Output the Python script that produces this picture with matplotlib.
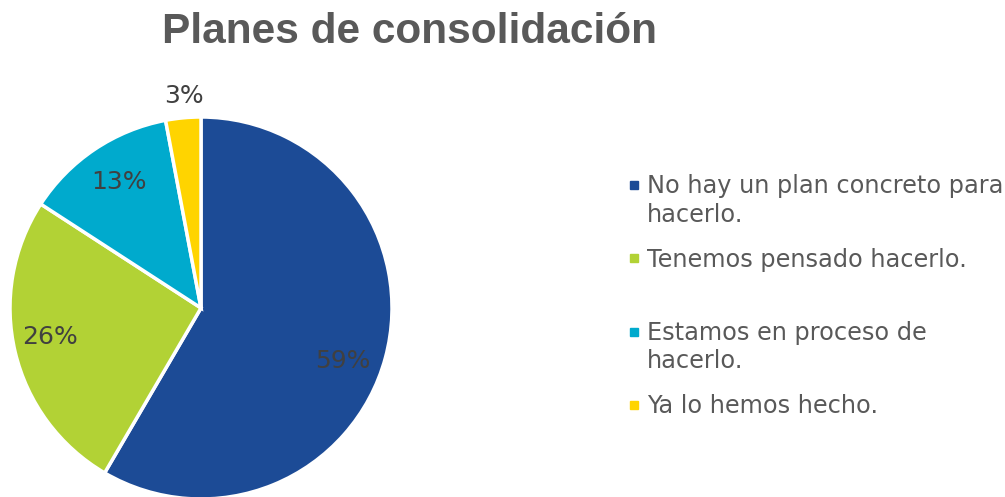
import matplotlib.pyplot as plt
from matplotlib.patches import Rectangle

categorias = ["No hay un plan concreto para\nhacerlo.",
              "Tenemos pensado hacerlo.",
              "Estamos en proceso de\nhacerlo.",
              "Ya lo hemos hecho."]
porcentajes = [59, 26, 13, 3]
colores = ["#1C4B96", "#B2D235", "#00AACD", "#FFD400"]

# posiciones de las etiquetas (en radios, relativas al centro)
pos_etiquetas = [(0.74, -0.28), (-0.79, -0.15), (-0.43, 0.66), (-0.09, 1.11)]

W, H = 1005, 497
fig = plt.figure(figsize=(W / 100, H / 100), dpi=100)

cx, cy, r = 201, 308, 191
ax = fig.add_axes([(cx - r) / W, (H - cy - r) / H, 2 * r / W, 2 * r / H])
ax.pie(porcentajes, colors=colores, startangle=90, counterclock=False,
       radius=1, wedgeprops=dict(edgecolor="white", linewidth=2.5))
ax.set_xlim(-1, 1)
ax.set_ylim(-1, 1)
ax.set_aspect("equal")
ax.axis("off")

for p, (x, y) in zip(porcentajes, pos_etiquetas):
    ax.text(x, y, f"{p}%", ha="center", va="center", fontsize=18,
            color="#404040", family="DejaVu Sans")

fig.text(409 / W, (H - 43) / H, "Planes de consolidación", ha="center",
         va="baseline", fontsize=30.5, fontweight="bold", color="#595959",
         family="Liberation Sans")

# leyenda
cuadros_y = [185, 258, 332, 405]
lineas_y = [[193, 222], [267], [340, 368], [413]]
for cat, col, sy, ly in zip(categorias, colores, cuadros_y, lineas_y):
    fig.patches.append(Rectangle((630 / W, (H - sy - 4) / H), 8 / W, 8 / H,
                                 transform=fig.transFigure, color=col))
    for linea, y in zip(cat.split("\n"), ly):
        fig.text(647 / W, (H - y) / H, linea, ha="left", va="baseline",
                 fontsize=17.3, color="#595959", family="DejaVu Sans")

fig.savefig("out.png", dpi=100)
